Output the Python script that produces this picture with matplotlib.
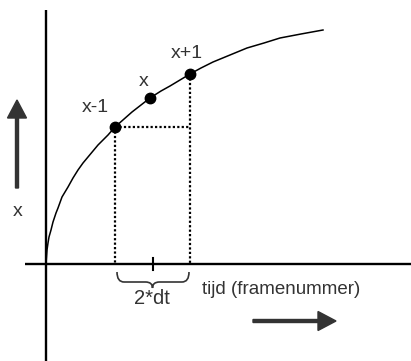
import matplotlib.pyplot as plt
from matplotlib.path import Path
from matplotlib.patches import PathPatch

plt.rc('font', family='Liberation Sans', size=13.5)

# curve (tijd, x)
curve_t = [0, 1, 2, 3, 5, 7, 10, 12, 16, 22, 27, 32, 37, 42, 47, 52, 57, 62, 69,
           86, 104, 115, 124, 134, 144, 155, 167, 184, 201, 218, 234, 255, 277]
curve_x = [0, 14, 21, 27, 34, 42, 51, 56, 67, 77, 86, 94, 101, 107, 113, 119, 124, 129, 137,
           152, 166, 173, 178, 184, 190, 196, 202, 209, 216, 221, 226, 230, 234]

# the three marked frames
point_t = [69, 104, 144]
point_x = [137, 166, 190]
point_labels = ['x-1', 'x', 'x+1']
label_offsets = [(-20, 20), (-6, 16), (-3, 20)]

text_color = '#333333'

fig = plt.figure(figsize=(4.11, 3.61), dpi=100)
ax = fig.add_axes([0, 0, 1, 1])
ax.set_xlim(-46, 365)
ax.set_ylim(-97, 264)
ax.axis('off')

# axes
ax.plot([-21, 365], [0, 0], color='black', lw=1.7, solid_capstyle='butt')
ax.plot([0, 0], [-97, 254], color='black', lw=1.7, solid_capstyle='butt')

# curve and points
ax.plot(curve_t, curve_x, color='black', lw=1.1)
ax.plot(point_t, point_x, 'o', color='black', ms=7.5)
for t, x, lab, (dt, dx) in zip(point_t, point_x, point_labels, label_offsets):
    ax.text(t + dt, x + dx, lab, ha='center', va='center', color=text_color, fontsize=14)

# dotted helper lines
dots = (0, (1, 1))
ax.plot([point_t[0], point_t[0]], [point_x[0], 0], ls=dots, color='black', lw=1.6)
ax.plot([point_t[2], point_t[2]], [point_x[2], 0], ls=dots, color='black', lw=1.6)
ax.plot([point_t[0], point_t[2]], [point_x[0], point_x[0]], ls=dots, color='black', lw=1.6)

# tick at the middle frame
mid = (point_t[0] + point_t[2]) / 2
ax.plot([mid, mid], [-6, 6], color='black', lw=1.5)

# brace under the interval
l, r = point_t[0] + 2, point_t[2] - 1
verts = [(l, -8), (l, -18), (l + 7, -18),
         (mid - 7, -18), (mid, -18), (mid, -24),
         (mid, -18), (mid + 7, -18),
         (r - 7, -18), (r, -18), (r, -8)]
codes = [Path.MOVETO, Path.CURVE3, Path.CURVE3,
         Path.LINETO, Path.CURVE3, Path.CURVE3,
         Path.CURVE3, Path.CURVE3,
         Path.LINETO, Path.CURVE3, Path.CURVE3]
ax.add_patch(PathPatch(Path(verts, codes), fill=False, ec=text_color, lw=1.2))
ax.text(mid - 1, -34, '2*dt', ha='center', va='center', color=text_color, fontsize=14.5)

# axis labels and arrows
ax.text(156, -25, 'tijd (framenummer)', ha='left', va='center', color=text_color)
ax.text(-28, 53, 'x', ha='center', va='center', color=text_color, fontsize=14)
ax.arrow(-29, 76, 0, 88, width=3, head_width=19, head_length=18,
         length_includes_head=True, color=text_color)
ax.arrow(207, -57, 83, 0, width=3, head_width=19, head_length=18,
         length_includes_head=True, color=text_color)

plt.savefig('out.png', dpi=100)
